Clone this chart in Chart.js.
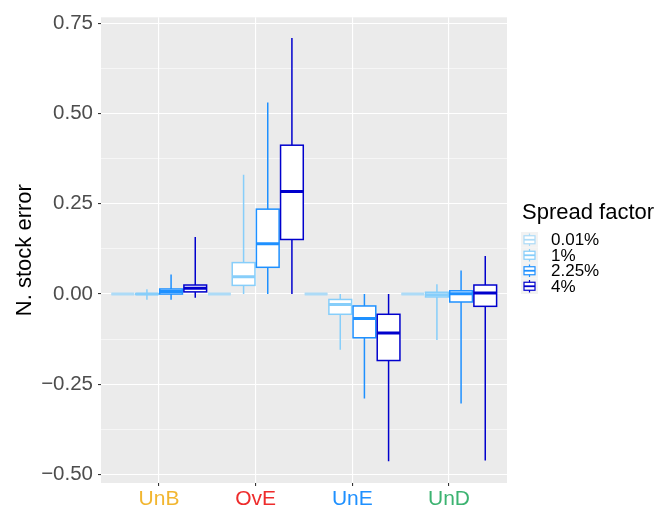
<!DOCTYPE html>
<html lang="en">
<head>
  <meta charset="UTF-8" />
  <title>N. stock error by spread factor</title>
  <script src="https://cdn.jsdelivr.net/npm/chart.js@4.4.0/dist/chart.umd.min.js"></script>
  <style>
    body { margin: 0; background: #fff; }
    #wrap { width: 662px; height: 509px; }
  </style>
</head>
<body>
  <div id="wrap"><canvas id="boxChart" width="662" height="509"></canvas></div>

  <script>
    // === data ===
    const categories = ['UnB', 'OvE', 'UnE', 'UnD'];
    const categoryColors = ['#F2B630', '#EE2C2C', '#1E90FF', '#3CB371'];
    const seriesNames = ['0.01%', '1%', '2.25%', '4%'];
    const seriesColors = ['#ADDBF7', '#87CEFA', '#1E90FF', '#0000CD'];

    // per series: one value per category (UnB, OvE, UnE, UnD)
    const lo001  = [0, 0, 0, 0];
    const q1_001 = [0, 0, 0, 0];
    const med001 = [0, 0, 0, 0];
    const q3_001 = [0, 0, 0, 0];
    const hi001  = [0, 0, 0, 0];

    const lo1  = [-0.016, 0.000, -0.154, -0.127];
    const q1_1 = [-0.001, 0.024, -0.056, -0.008];
    const med1 = [ 0.000, 0.048, -0.029, -0.002];
    const q3_1 = [ 0.001, 0.087, -0.015,  0.005];
    const hi1  = [ 0.013, 0.330,  0.000,  0.027];

    const lo225  = [-0.016, 0.000, -0.289, -0.303];
    const q1_225 = [ 0.000, 0.074, -0.121, -0.022];
    const med225 = [ 0.007, 0.139, -0.068,  0.001];
    const q3_225 = [ 0.014, 0.235, -0.033,  0.009];
    const hi225  = [ 0.054, 0.530,  0.000,  0.065];

    const lo4  = [-0.010, 0.000, -0.463, -0.461];
    const q1_4 = [ 0.006, 0.151, -0.184, -0.034];
    const med4 = [ 0.016, 0.284, -0.108,  0.003];
    const q3_4 = [ 0.025, 0.412, -0.056,  0.025];
    const hi4  = [ 0.158, 0.709,  0.000,  0.105];

    const yTicks = [-0.5, -0.375, -0.25, -0.125, 0, 0.125, 0.25, 0.375, 0.5, 0.625, 0.75];
    const yTickLabels = {'-0.5': '\u22120.50', '-0.25': '\u22120.25', '0': '0.00', '0.25': '0.25', '0.5': '0.50', '0.75': '0.75'};

    const stats = [
      {lo: lo001, q1: q1_001, med: med001, q3: q3_001, hi: hi001},
      {lo: lo1, q1: q1_1, med: med1, q3: q3_1, hi: hi1},
      {lo: lo225, q1: q1_225, med: med225, q3: q3_225, hi: hi225},
      {lo: lo4, q1: q1_4, med: med4, q3: q3_4, hi: hi4}
    ];

    // dodge: 4 boxes per category, each in a 0.25 slot
    const dodge = [-0.375, -0.125, 0.125, 0.375];
    const boxWidth = 0.235;
    const FONT = '"Liberation Sans", Arial, sans-serif';

    const panelBg = {
      id: 'panelBg',
      beforeDraw(chart) {
        const {ctx, chartArea: a} = chart;
        ctx.save();
        ctx.fillStyle = '#EBEBEB';
        ctx.fillRect(a.left, a.top, a.right - a.left, a.bottom - a.top);
        ctx.restore();
      }
    };

    // draws boxes through the chart's own x/y scales
    const boxplots = {
      id: 'boxplots',
      afterDatasetsDraw(chart) {
        const {ctx, chartArea: a} = chart;
        const xs = chart.scales.x, ys = chart.scales.y;
        const half = (xs.getPixelForValue(boxWidth) - xs.getPixelForValue(0)) / 2;
        ctx.save();
        ctx.beginPath();
        ctx.rect(a.left, a.top, a.right - a.left, a.bottom - a.top);
        ctx.clip();
        chart.data.datasets.forEach((ds, s) => {
          const st = stats[s];
          categories.forEach((c, i) => {
            const cx = xs.getPixelForValue(i + 1 + dodge[s]);
            const yLo = ys.getPixelForValue(st.lo[i]);
            const yQ1 = ys.getPixelForValue(st.q1[i]);
            const yMed = ys.getPixelForValue(st.med[i]);
            const yQ3 = ys.getPixelForValue(st.q3[i]);
            const yHi = ys.getPixelForValue(st.hi[i]);
            ctx.strokeStyle = ds.borderColor;
            ctx.lineWidth = 1.5;
            ctx.beginPath();
            ctx.moveTo(cx, yHi); ctx.lineTo(cx, yQ3);
            ctx.moveTo(cx, yQ1); ctx.lineTo(cx, yLo);
            ctx.stroke();
            ctx.fillStyle = '#FFFFFF';
            ctx.fillRect(cx - half, yQ3, 2 * half, yQ1 - yQ3);
            ctx.strokeRect(cx - half, yQ3, 2 * half, yQ1 - yQ3);
            ctx.lineWidth = 3;
            ctx.beginPath();
            ctx.moveTo(cx - half, yMed); ctx.lineTo(cx + half, yMed);
            ctx.stroke();
          });
        });
        ctx.restore();
      }
    };

    const legendBox = {
      id: 'legendBox',
      afterDraw(chart) {
        const ctx = chart.ctx;
        ctx.save();
        ctx.fillStyle = '#000';
        ctx.font = '22px ' + FONT;
        ctx.textBaseline = 'alphabetic';
        ctx.fillText('Spread factor', 522, 219);
        const rowH = 15.5, top = 232, kx = 521, kw = 17;
        seriesNames.forEach((name, s) => {
          const y0 = top + s * rowH, cy = y0 + rowH / 2, cx = kx + kw / 2;
          ctx.fillStyle = '#F2F2F2';
          ctx.fillRect(kx, y0, kw, rowH);
          ctx.strokeStyle = seriesColors[s];
          ctx.lineWidth = 1.2;
          ctx.beginPath();
          ctx.moveTo(cx, y0 + 1.5); ctx.lineTo(cx, y0 + rowH - 1.5);
          ctx.stroke();
          ctx.fillStyle = '#fff';
          ctx.fillRect(kx + 3, cy - 4, kw - 6, 8);
          ctx.strokeRect(kx + 3, cy - 4, kw - 6, 8);
          ctx.lineWidth = 1.8;
          ctx.beginPath();
          ctx.moveTo(kx + 3, cy); ctx.lineTo(kx + kw - 3, cy);
          ctx.stroke();
          ctx.fillStyle = '#000';
          ctx.font = '17px ' + FONT;
          ctx.textBaseline = 'middle';
          ctx.fillText(name, 551, cy + 1);
        });
        ctx.restore();
      }
    };

    const isMajor = v => Math.abs(v / 0.25 - Math.round(v / 0.25)) < 1e-6;

    new Chart(document.getElementById('boxChart'), {
      type: 'scatter',
      data: {
        datasets: seriesNames.map((name, s) => ({
          label: name,
          data: categories.map((c, i) => ({x: i + 1 + dodge[s], y: stats[s].med[i]})),
          borderColor: seriesColors[s],
          backgroundColor: seriesColors[s],
          pointRadius: 0,
          pointHoverRadius: 0
        }))
      },
      options: {
        responsive: false,
        animation: false,
        layout: { padding: { top: 13, right: 155, left: 0, bottom: 0 } },
        plugins: {
          legend: { display: false },
          tooltip: { enabled: false }
        },
        scales: {
          x: {
            type: 'linear',
            min: 0.4,
            max: 4.6,
            afterBuildTicks: scale => { scale.ticks = categories.map((c, i) => ({value: i + 1})); },
            afterFit: scale => { scale.height = 26; },
            border: { display: false },
            grid: {
              color: '#FFFFFF',
              lineWidth: 1.1,
              drawTicks: true,
              tickLength: 3,
              tickColor: '#333333'
            },
            ticks: {
              callback: v => categories[Math.round(v) - 1],
              color: ctx => categoryColors[ctx.index],
              font: { family: FONT, size: 21 },
              padding: 1,
              maxRotation: 0
            }
          },
          y: {
            min: -0.523,
            max: 0.766,
            afterBuildTicks: scale => { scale.ticks = yTicks.map(v => ({value: v})); },
            afterFit: scale => { scale.width = 101; },
            border: { display: false },
            grid: {
              color: '#FFFFFF',
              lineWidth: ctx => isMajor(ctx.tick.value) ? 1.1 : 0.55,
              drawTicks: true,
              tickLength: 3,
              tickColor: ctx => isMajor(ctx.tick.value) ? '#333333' : 'rgba(0,0,0,0)'
            },
            ticks: {
              callback: v => yTickLabels[String(v)] || '',
              color: '#4D4D4D',
              font: { family: FONT, size: 20.5 },
              padding: 5
            },
            title: {
              display: true,
              text: 'N. stock error',
              color: '#000',
              font: { family: FONT, size: 22 },
              padding: { top: 12, bottom: 0 }
            }
          }
        }
      },
      plugins: [panelBg, boxplots, legendBox]
    });
  </script>
</body>
</html>
